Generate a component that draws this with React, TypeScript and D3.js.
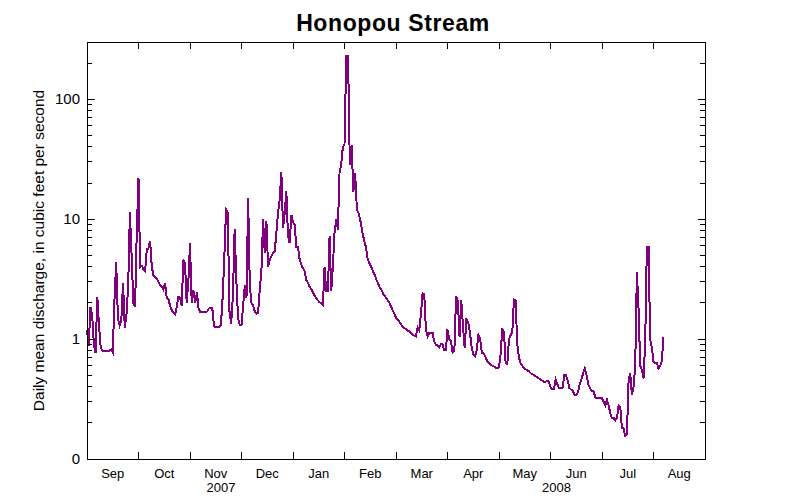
import React from "react";
import * as d3 from "d3";

// Daily mean discharge (cfs), Honopou Stream, from 2007-09-01
const sep2007 = [1.2, 0.87, 1.85, 1.6, 0.9, 0.77, 2.25, 1.3, 0.85, 0.8, 0.8, 0.8, 0.8, 0.8, 0.82, 0.77, 2.1, 4.4, 1.5, 1.3, 1.45, 2.95, 1.25, 1.6, 2.8, 11.4, 4.9, 2.0, 1.85, 7.9];
const oct2007 = [22, 4.0, 4.1, 3.8, 3.7, 5.6, 5.7, 6.6, 4.0, 3.4, 3.3, 3.2, 3.0, 2.8, 2.75, 2.6, 2.9, 2.2, 2.15, 1.9, 1.75, 1.65, 1.6, 1.85, 2.25, 2.2, 1.9, 4.6, 4.3, 2.0, 3.0];
const nov2007 = [6.3, 2.0, 2.55, 2.0, 2.45, 1.8, 1.67, 1.67, 1.67, 1.67, 1.7, 1.8, 1.82, 1.8, 1.27, 1.25, 1.25, 1.25, 1.3, 2.2, 4.8, 12, 11.3, 1.7, 1.35, 2.3, 8.2, 3.1, 1.5, 1.3];
const dec2007 = [1.3, 1.9, 2.8, 2.2, 15, 2.8, 2.0, 1.9, 1.7, 1.62, 1.65, 2.6, 3.7, 10, 5.2, 9.6, 4.0, 4.6, 4.9, 5.2, 5.4, 7.7, 11.3, 14.5, 24.6, 8.4, 11.3, 17, 7.2, 6.3, 10.9];
const jan2008 = [9.4, 9.0, 5.9, 5.9, 4.6, 4.16, 3.9, 3.66, 3.1, 2.94, 2.73, 2.6, 2.45, 2.3, 2.2, 2.1, 2.03, 2.0, 1.93, 4.0, 2.5, 2.5, 7.2, 2.5, 4.0, 7.7, 10, 8.2, 24.1, 28.3, 40];
const feb2008 = [42, 228, 228, 28.3, 41.5, 17, 24.1, 11.9, 11.2, 9.6, 7.9, 6.7, 5.9, 4.73, 4.3, 4.0, 3.7, 3.43, 3.1, 2.9, 2.65, 2.55, 2.35, 2.25, 2.13, 2.05, 1.9, 1.75, 1.65];
const mar2008 = [1.5, 1.45, 1.4, 1.33, 1.27, 1.24, 1.21, 1.18, 1.16, 1.13, 1.09, 1.07, 1.05, 1.25, 1.18, 1.6, 2.42, 2.35, 1.2, 1.05, 1.13, 1.13, 1.13, 0.96, 0.9, 0.88, 0.85, 0.91, 0.9, 0.81, 0.81];
const apr2008 = [1.2, 1.0, 0.96, 0.77, 0.8, 2.27, 2.1, 1.05, 2.13, 1.3, 0.85, 1.45, 1.4, 1.15, 0.88, 0.74, 0.72, 0.8, 1.08, 1.0, 0.77, 0.76, 0.72, 0.66, 0.64, 0.61, 0.6, 0.59, 0.58, 0.57];
const may2008 = [0.58, 0.76, 1.23, 1.13, 0.63, 0.62, 1.0, 1.08, 1.13, 2.13, 2.1, 0.9, 0.7, 0.63, 0.6, 0.57, 0.56, 0.55, 0.54, 0.52, 0.51, 0.5, 0.49, 0.48, 0.47, 0.46, 0.45, 0.44, 0.44, 0.45, 0.44];
const jun2008 = [0.4, 0.38, 0.38, 0.46, 0.42, 0.39, 0.39, 0.39, 0.5, 0.5, 0.45, 0.39, 0.38, 0.37, 0.34, 0.34, 0.36, 0.42, 0.46, 0.52, 0.57, 0.5, 0.42, 0.39, 0.37, 0.37, 0.33, 0.32, 0.32, 0.32];
const jul2008 = [0.32, 0.3, 0.28, 0.31, 0.28, 0.24, 0.22, 0.22, 0.21, 0.22, 0.28, 0.27, 0.18, 0.18, 0.155, 0.16, 0.45, 0.52, 0.34, 0.4, 0.6, 3.6, 1.8, 0.6, 0.55, 0.47, 0.93, 5.9, 5.9, 1.0, 0.85];
const aug2008 = [0.65, 0.63, 0.63, 0.57, 0.6, 0.65, 1.04];

const monthLabels = ["Sep", "Oct", "Nov", "Dec", "Jan", "Feb", "Mar", "Apr", "May", "Jun", "Jul", "Aug"];
const yearLabels = ["2007", "2008"];
const yearLabelDates = [new Date(2007, 10, 19), new Date(2008, 5, 4, 12)];
const yMajorTicks = [0.1, 1, 10, 100];
const yMajorLabels = ["0", "1", "10", "100"];
const yDomain = [0.1, 300];

const W = 792, H = 503;
const L = 87, R = 705, T = 42, B = 459;

export default function App() {
  const start = new Date(2007, 8, 1);
  const values = [
    ...sep2007, ...oct2007, ...nov2007, ...dec2007, ...jan2008, ...feb2008,
    ...mar2008, ...apr2008, ...may2008, ...jun2008, ...jul2008, ...aug2008,
  ];
  const data = values.map((v, i) => ({ date: d3.timeDay.offset(start, i), value: v }));

  const monthStarts = d3.timeMonth.range(start, new Date(2008, 8, 2)); // 13 boundaries
  const x = d3
    .scaleTime()
    .domain(monthStarts)
    .range(monthStarts.map((_, i) => L + (i * (R - L)) / 12));
  const y = d3.scaleLog().domain(yDomain).range([B, T]);

  const line = d3
    .line<{ date: Date; value: number }>()
    .x((d) => x(d.date))
    .y((d) => y(d.value));

  const minor: number[] = [];
  [0.1, 1, 10, 100].forEach((dec) => {
    for (let k = 2; k <= 9; k++) {
      const v = dec * k;
      if (v < yDomain[1]) minor.push(v);
    }
  });

  const inner = monthStarts.slice(1, -1);
  const font = "'Liberation Sans', Arial, Helvetica, sans-serif";
  const narrow = "'Liberation Sans Narrow', 'Arial Narrow', 'Liberation Sans', Arial, sans-serif";

  return (
    <svg width={W} height={H} style={{ position: "absolute", left: 0, top: 0, background: "#fff" }}>
      <rect x={0} y={0} width={W} height={H} fill="#fff" />
      <text x={(L + R) / 2 - 3} y={31} textAnchor="middle" fontFamily={font} fontWeight="bold" fontSize={23} letterSpacing={0.6}>
        Honopou Stream
      </text>
      <path d={line(data) || ""} fill="none" stroke="#800080" strokeWidth={2} shapeRendering="crispEdges" />
      <g shapeRendering="crispEdges" stroke="#000" strokeWidth={1}>
        <rect x={L} y={T} width={R - L} height={B - T} fill="none" />
        {inner.map((d, i) => (
          <g key={"xt" + i}>
            <line x1={x(d)} x2={x(d)} y1={B} y2={B - 7} />
            <line x1={x(d)} x2={x(d)} y1={T} y2={T + 7} />
          </g>
        ))}
        {yMajorTicks.map((v, i) => (
          <g key={"ymj" + i}>
            <line x1={L} x2={L + 8} y1={y(v)} y2={y(v)} />
            <line x1={R} x2={R - 7} y1={y(v)} y2={y(v)} />
          </g>
        ))}
        {minor.map((v, i) => (
          <g key={"ymn" + i}>
            <line x1={L} x2={L + 5} y1={y(v)} y2={y(v)} />
            <line x1={R} x2={R - 5} y1={y(v)} y2={y(v)} />
          </g>
        ))}
      </g>
      {yMajorTicks.map((v, i) => (
        <text key={"yl" + i} x={80} y={y(v) + 5} textAnchor="end" fontFamily={narrow} fontSize={15}>
          {yMajorLabels[i]}
        </text>
      ))}
      {monthLabels.map((m, i) => (
        <text
          key={"ml" + i}
          x={(x(monthStarts[i]) + x(monthStarts[i + 1])) / 2}
          y={478}
          textAnchor="middle"
          fontFamily={narrow}
          fontSize={13}
        >
          {m}
        </text>
      ))}
      {yearLabels.map((t, i) => (
        <text key={"yr" + i} x={x(yearLabelDates[i])} y={492} textAnchor="middle" fontFamily={narrow} fontSize={13}>
          {t}
        </text>
      ))}
      <text
        transform={`translate(44, ${(T + B) / 2}) rotate(-90)`}
        textAnchor="middle"
        fontFamily={font}
        fontSize={15.5}
      >
        Daily mean discharge, in cubic feet per second
      </text>
    </svg>
  );
}
